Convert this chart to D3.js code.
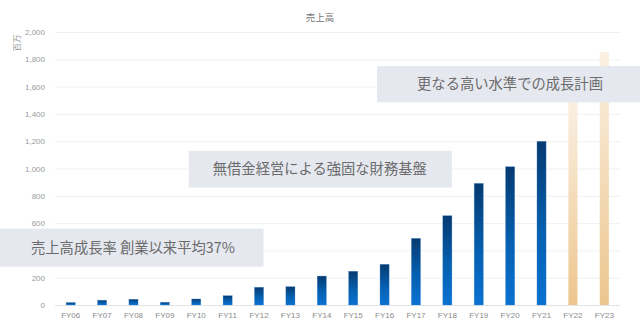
<!DOCTYPE html>
<html>
<head>
<meta charset="utf-8">
<script src="https://cdn.jsdelivr.net/npm/d3@7"></script>
<style>
  html, body { margin: 0; padding: 0; background: #fff; }
  svg { display: block; }
  text { font-family: "Noto Sans CJK JP", "Noto Sans", sans-serif; }
</style>
</head>
<body>
<svg id="chart" width="640" height="326"></svg>
<script>
// 売上高 (百万円) by fiscal year; FY22–FY23 are plan figures
const years = ["FY06","FY07","FY08","FY09","FY10","FY11","FY12","FY13","FY14",
               "FY15","FY16","FY17","FY18","FY19","FY20","FY21","FY22","FY23"];
const sales = [18, 35, 42, 20, 44, 68, 130, 134, 212,
               247, 298, 488, 654, 891, 1013, 1199, 1500, 1853];
const planYears = ["FY22", "FY23"];
const yTicks = [0, 200, 400, 600, 800, 1000, 1200, 1400, 1600, 1800, 2000];

// Callout banners: text, the categories bounding them and the value range they cover
const callouts = [
  { text: "売上高成長率 創業以来平均37%", x0: null, x1: "FY12", top: 560, bottom: 280 },
  { text: "無借金経営による強固な財務基盤", x0: "FY10", x1: "FY18", top: 1130, bottom: 860 },
  { text: "更なる高い水準での成長計画", x0: "FY16", x1: null, top: 1750, bottom: 1485 }
];

const svg = d3.select("#chart");
const W = 640;
const mLeft = 55, mRight = 620, mTop = 32, mBottom = 305;

const x = d3.scaleBand().domain(years).range([mLeft, mRight]).paddingInner(0.71).paddingOuter(0.355);
const y = d3.scaleLinear().domain([0, 2000]).range([mBottom, mTop]);
const cx = d => x(d) + x.bandwidth() / 2;

// Gradients for actual and plan bars
const defs = svg.append("defs");
const gBlue = defs.append("linearGradient").attr("id", "gBlue")
  .attr("x1", 0).attr("y1", 0).attr("x2", 0).attr("y2", 1);
gBlue.append("stop").attr("offset", "0%").attr("stop-color", "#063a70");
gBlue.append("stop").attr("offset", "55%").attr("stop-color", "#0560b0");
gBlue.append("stop").attr("offset", "100%").attr("stop-color", "#0a72d2");
const gPlan = defs.append("linearGradient").attr("id", "gPlan")
  .attr("x1", 0).attr("y1", 0).attr("x2", 0).attr("y2", 1);
gPlan.append("stop").attr("offset", "0%").attr("stop-color", "#fbf0e3");
gPlan.append("stop").attr("offset", "100%").attr("stop-color", "#ecc68e");

// Title
svg.append("text").attr("x", 320).attr("y", 21).attr("text-anchor", "middle")
  .attr("font-size", 9.5).attr("fill", "#777").text("売上高");

// Unit label
svg.append("text").attr("transform", "translate(20,43) rotate(-90)")
  .attr("text-anchor", "middle").attr("font-size", 8.5).attr("fill", "#999").text("百万");

// Banner rectangles (pixel extents)
const banners = callouts.map(c => ({
  text: c.text,
  x0: c.x0 === null ? 0 : cx(c.x0) - 7.5,
  x1: c.x1 === null ? W : cx(c.x1) + 4.5,
  y0: y(c.top),
  y1: y(c.bottom)
}));

// Grid + y axis (labels sitting under a banner stay hidden)
const hidden = v => banners.some(b => b.x0 < mLeft && y(v) > b.y0 && y(v) < b.y1);
const yAxis = d3.axisLeft(y).tickValues(yTicks).tickSize(-(mRight - mLeft))
  .tickFormat(v => hidden(v) ? "" : d3.format(",")(v)).tickPadding(10);
const ya = svg.append("g").attr("transform", `translate(${mLeft},0)`).call(yAxis);
ya.select(".domain").remove();
ya.selectAll(".tick line").attr("stroke", d => d === 0 ? "#e4e4e4" : "#f1f1f1");
ya.selectAll(".tick text").attr("fill", "#9a9a9a").attr("font-size", 8)
  .style("font-family", "'Liberation Sans', Arial, sans-serif");

// Bars
svg.append("g").selectAll("rect").data(years).join("rect")
  .attr("x", d => x(d))
  .attr("width", x.bandwidth())
  .attr("y", (d, i) => y(sales[i]))
  .attr("height", (d, i) => y(0) - y(sales[i]))
  .attr("fill", d => planYears.includes(d) ? "url(#gPlan)" : "url(#gBlue)")
  .attr("stroke", d => planYears.includes(d) ? "none" : "#3d86cf")
  .attr("stroke-width", 0.5)
  .attr("stroke-opacity", 0.6);

// x axis labels
const xa = svg.append("g").attr("transform", `translate(0,${mBottom})`)
  .call(d3.axisBottom(x).tickSize(0).tickPadding(7));
xa.select(".domain").remove();
xa.selectAll(".tick text").attr("fill", "#8a8a8a").attr("font-size", 8)
  .style("font-family", "'Liberation Sans', Arial, sans-serif");

// Callout banners
const pad = [31, 24, 40];
banners.forEach((b, i) => {
  svg.append("rect").attr("x", b.x0).attr("y", b.y0)
    .attr("width", b.x1 - b.x0).attr("height", b.y1 - b.y0).attr("fill", "#e5e8ef");
  svg.append("text").attr("x", b.x0 + pad[i]).attr("y", (b.y0 + b.y1) / 2)
    .attr("dy", "0.36em").attr("font-size", 14.3).attr("fill", "#6b6b6b").text(b.text);
});
</script>
</body>
</html>
